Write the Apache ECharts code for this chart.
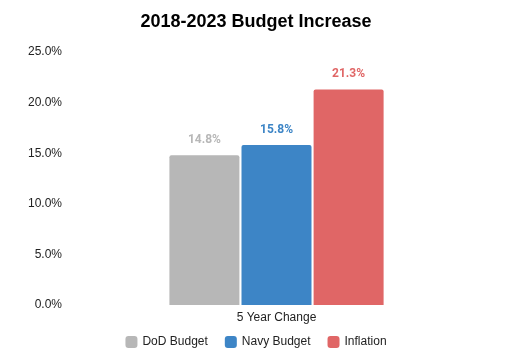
<!DOCTYPE html>
<html><head><meta charset="utf-8">
<script src="https://cdn.jsdelivr.net/npm/echarts@6/dist/echarts.min.js"></script>
<style>html,body{margin:0;padding:0;background:#fff}#c{width:512px;height:356px}</style>
</head><body><div id="c"></div>
<script>
const categories = ['5 Year Change'];
const seriesNames = ['DoD Budget', 'Navy Budget', 'Inflation'];
const dodValues = [14.8];
const navyValues = [15.8];
const inflationValues = [21.3];
const yTicks = [0, 5, 10, 15, 20, 25];
const colors = ['#b7b7b7', '#3d85c6', '#e06666'];
const dataSets = [dodValues, navyValues, inflationValues];

const chart = echarts.init(document.getElementById('c'), null, {renderer: 'canvas'});
chart.setOption({
  animation: false,
  backgroundColor: '#fff',
  title: {
    text: '2018-2023 Budget Increase', left: 'center', top: 8,
    textStyle: {fontFamily: 'Liberation Sans, Arial', fontWeight: 'bold', fontSize: 18, color: '#000'}
  },
  legend: {
    bottom: 3, left: 'center', itemWidth: 12, itemHeight: 12, itemGap: 17,
    icon: 'roundRect',
    textStyle: {fontFamily: 'Liberation Sans, Arial', fontSize: 12, color: '#222'},
    data: seriesNames
  },
  grid: {left: 70, right: 29, top: 52, bottom: 51, containLabel: false},
  xAxis: {
    type: 'category', data: categories,
    axisLine: {show: false}, axisTick: {show: false},
    axisLabel: {fontFamily: 'Liberation Sans, Arial', fontSize: 12, color: '#222', margin: 7}
  },
  yAxis: {
    type: 'value', min: yTicks[0], max: yTicks[yTicks.length - 1], interval: 5,
    splitLine: {show: false}, axisLine: {show: false}, axisTick: {show: false},
    axisLabel: {
      fontFamily: 'Liberation Sans, Arial', fontSize: 12, color: '#222', margin: 8,
      formatter: v => v.toFixed(1) + '%'
    }
  },
  series: seriesNames.map((n, i) => ({
    name: n, type: 'bar', data: dataSets[i],
    barWidth: 70, barGap: '3%',
    itemStyle: {color: colors[i], borderRadius: [2, 2, 0, 0]},
    label: {
      show: true, position: 'top', distance: 9,
      formatter: p => p.value.toFixed(1) + '%',
      fontFamily: 'Roboto, Liberation Sans', fontWeight: 'bold', fontSize: 12, color: colors[i]
    }
  }))
});
</script></body></html>
